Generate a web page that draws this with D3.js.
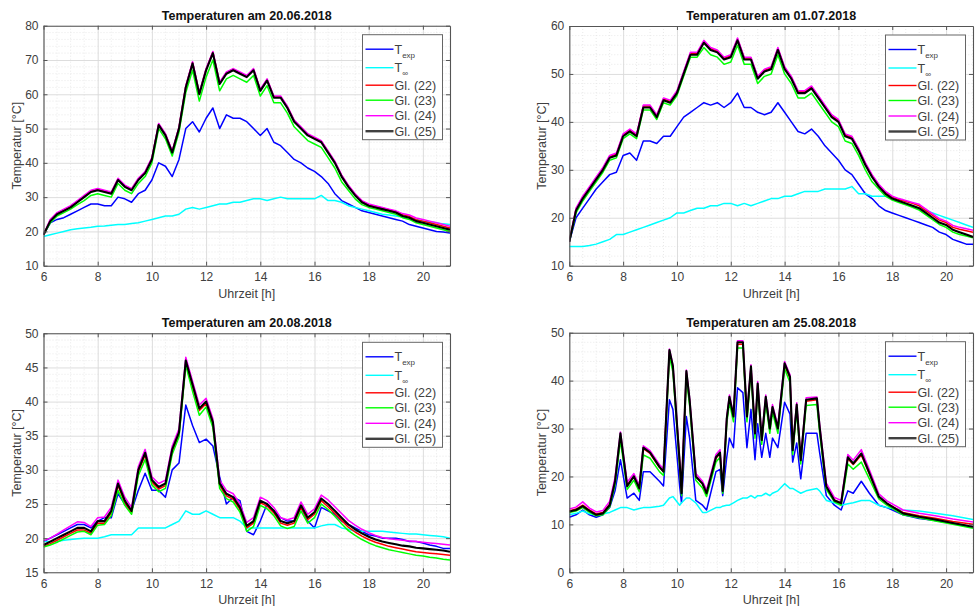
<!DOCTYPE html>
<html><head><meta charset="utf-8">
<script src="https://cdn.jsdelivr.net/npm/d3@7"></script>
<style>
body{margin:0;background:#fff;}
svg{display:block;font-family:"Liberation Sans",Arial,sans-serif;}
</style>
</head><body>
<svg id="chart" width="976" height="606"></svg>
<script>
// ---------- data ----------
const hours = [6,6.25,6.5,6.75,7,7.25,7.5,7.75,8,8.25,8.5,8.75,9,9.25,9.5,9.75,10,10.25,10.5,10.75,11,11.25,11.5,11.75,12,12.25,12.5,12.75,13,13.25,13.5,13.75,14,14.25,14.5,14.75,15,15.25,15.5,15.75,16,16.25,16.5,16.75,17,17.25,17.5,17.75,18,18.25,18.5,18.75,19,19.25,19.5,19.75,20,20.25,20.5,20.75,21];

const seriesNames = ["Texp","Tinf","Gl. (22)","Gl. (23)","Gl. (24)","Gl. (25)"];
const seriesColors = ["#0000ff","#00ffff","#ff0000","#00ff00","#ff00ff","#000000"];
const titles = ["Temperaturen am 20.06.2018","Temperaturen am 01.07.2018","Temperaturen am 20.08.2018","Temperaturen am 25.08.2018"];
const xTicks = [6,8,10,12,14,16,18,20];
const yTicks1 = [10,20,30,40,50,60,70,80];
const yTicks2 = [10,20,30,40,50,60];
const yTicks3 = [15,20,25,30,35,40,45,50];
const yTicks4 = [0,10,20,30,40,50];
const xLabel = "Uhrzeit [h]";
const yLabel = "Temperatur [°C]";

// Panel 1: 20.06.2018
const p1Texp = [19,22.5,23.5,24,25,26,27,28,28,27.5,27.5,30,29.5,28.5,31,32,35,40,39,36,41,50,52,49,53,56,50,54,53,53,52,50,48,50,46,45,43,41,40,38.5,37.5,36,34,31,29,28,27,26,25.5,25,24.5,24,23.5,23,22,21.5,21,20.5,20,19.8,19.5];
const p1Tinf = [18.5,19,19.5,20,20.5,20.8,21,21.2,21.5,21.6,21.8,22,22,22.3,22.5,23,23.5,24,24.5,24.5,25,26.5,27,26.5,27,27.5,28,28,28.5,28.5,29,29.5,29.5,29,29.5,30,29.5,29.5,29.5,29.5,29.5,30.5,29,29,28.5,27.5,27,26.5,26,25.5,25,24.8,24.5,24.2,24,23.5,23,22.8,22.5,22.2,22];
const p1G22 = [19,23.3,25.3,26.3,27.3,28.8,30.3,31.8,32.3,31.8,31.3,35.3,33.3,32.3,35.3,37.3,41.3,51.3,48.3,43.3,50.3,62.3,69.3,60.3,67.3,72.3,63.3,66.3,67.3,66.3,65.3,67.3,61.3,64.3,59.3,59.3,56.3,52.3,50.3,48.3,47.3,46.3,43.3,40.3,36.3,33.3,30.8,28.8,27.8,27.3,26.8,26.3,25.8,24.9,24.4,23.4,23,22.5,22,21.5,21];
const p1G23 = [19,22.5,24.5,25.5,26.5,27.8,29,30.5,31,30.5,30,34,32,31,34,36,40,50,47,42,49,60.5,67,58,65,70,61,64.5,65.5,64.5,63.5,65.5,59.5,62.5,57.5,57.5,54.5,50.5,48.5,46.5,45.5,44.5,41.5,38.5,34.5,32,29.5,27.8,27,26.5,26,25.5,25,24,23.5,22.5,22,21.5,21,20.5,20];
const p1G24 = [19,23.5,25.5,26.5,27.5,29,30.5,32,32.5,32,31.5,35.5,33.5,32.5,35.5,37.5,41.5,51.5,48.5,43.5,50.5,62.5,69.5,60.5,67.5,72.5,63.5,66.5,67.5,66.5,65.5,67.5,61.5,64.5,59.5,59.5,56.5,52.5,50.5,48.5,47.5,46.5,43.5,40.5,36.5,33.5,31,29,28,27.5,27,26.5,26,25.2,24.8,23.9,23.5,23,22.5,22,21.5];
const p1G25 = [19,23,25,26,27,28.5,30,31.5,32,31.5,31,35,33,32,35,37,41,51,48,43,50,62,69,60,67,72,63,66,67,66,65,67,61,64,59,59,56,52,50,48,47,46,43,40,36,33,30.5,28.5,27.5,27,26.5,26,25.5,24.5,24,23,22.5,22,21.5,21,20.5];

// Panel 2: 01.07.2018
const p2Texp = [15,20,22,24,26,27.5,29,29.5,33,33.5,32,36,36,35.5,37,37,39,41,42,43,44,43.5,44,43,44,46,43,43,42,41.5,42,44,42,40,38,37.5,38.5,37,35,33.5,32,30,29,27,25,24,22.5,21.5,21,20.5,20,19.5,19,18.5,18,17,16.5,15.5,15,14.5,14.5];
const p2Tinf = [14,14,14,14.2,14.5,15,15.5,16.5,16.5,17,17.5,18,18.5,19,19.5,20,21,21,21.5,22,22,22.5,22.5,23,23,22.5,23,22.5,23,23.5,24,24,24.5,24.5,25,25.5,25.5,25.5,26,26,26,26,26.5,25,25,24.5,24.5,24.5,24,23.5,23,22.5,22,21.5,21,20.5,20,19.5,19,18.5,18];
const p2G22 = [15,21.8,24.3,26.3,28.3,30.3,32.8,33.3,37.3,38.3,37.3,43.3,43.3,41.3,44.8,44.3,46.3,50.3,54.3,54.3,56.8,55.3,54.8,53.3,53.8,57.3,53.3,53.3,49.3,50.8,51.3,55.3,51.3,49.3,46.3,46.3,47.3,45.3,43.3,41.3,40.3,37.3,36.8,34.3,31.3,28.8,26.8,25.3,24.3,23.8,23.4,23,22.5,21.5,20.5,19.5,19,18,17.6,17.3,17];
const p2G23 = [15,21,23.5,25.5,27.5,29.5,32,32.5,36.5,37.5,36.5,42.5,42.5,40.5,44,43.5,45.5,49.5,53.5,53.5,55.5,54,53.5,52,52.5,56,52,52,48,49.5,50,54,50,48,45,45,46,44,42,40,39,36,35.5,33,30,27.5,26,24.5,23.7,23.2,22.7,22.2,21.6,20.6,19.6,18.6,18,17,16.5,16.2,15.8];
const p2G24 = [15,22,24.5,26.5,28.5,30.5,33,33.5,37.5,38.5,37.5,43.5,43.5,41.5,45,44.5,46.5,50.5,54.5,54.5,57,55.5,55,53.5,54,57.5,53.5,53.5,49.5,51,51.5,55.5,51.5,49.5,46.5,46.5,47.5,45.5,43.5,41.5,40.5,37.5,37,34.5,31.5,29,27,25.5,24.5,24,23.6,23.2,22.8,21.8,20.8,19.8,19.3,18.4,18,17.7,17.4];
const p2G25 = [15,21.5,24,26,28,30,32.5,33,37,38,37,43,43,41,44.5,44,46,50,54,54,56.5,55,54.5,53,53.5,57,53,53,49,50.5,51,55,51,49,46,46,47,45,43,41,40,37,36.5,34,31,28.5,26.5,25,24,23.5,23,22.5,22,21,20,19,18.5,17.5,17,16.5,16];

// Panel 3: 20.08.2018
const p3Texp = [19.5,20,20.5,21,21.5,22,22,21.5,22.5,23,23,26.5,25,24,27,29.5,27,27,26,30,31,39.5,36.5,34,34.5,33.5,29,25,26,25.5,21,20.5,22.5,25,24,23,22.5,22.5,24.5,22.5,21.5,24.5,24,23.5,22.5,22,21.5,21,20.5,20.3,20,20,20,19.8,19.5,19.5,19.3,19,18.8,18.5,18.5];
const p3Tinf = [19.5,19.5,19.5,19.7,19.8,19.9,20,20,20,20.2,20.5,20.5,20.5,20.5,21.5,21.5,21.5,21.5,21.5,22,22.5,24,23.5,23.5,24,23.5,23,23,23,22.5,21.5,21.5,21.5,21.5,21.5,21.5,21.5,21.5,21.5,21.5,21.5,21.8,22,22,21.5,21.3,21,21,21,21,21,20.9,20.8,20.7,20.6,20.6,20.5,20.4,20.3,20.2,20];
const p3G22 = [18.8,19.2,19.7,20.2,20.7,21.2,21.2,20.7,22.2,22.2,23.7,27.7,25.2,23.7,29.7,32.2,28.2,27.2,27.7,32.7,35.2,45.7,42.2,38.7,39.7,36.7,27.7,26.2,25.7,24.2,21.5,22.2,25.2,24.7,23.7,22.2,21.9,22.2,24.5,22.7,23.5,25.5,24.6,23.6,22.6,21.6,20.9,20.3,19.8,19.4,19.1,18.8,18.6,18.4,18.2,18,17.9,17.8,17.7,17.6,17.5];
const p3G23 = [18.7,19,19.4,19.9,20.4,20.9,21,20.5,21.9,22,23.3,27,24.8,23.5,29.2,31.5,27.8,26.8,27.3,32.3,34.8,45.3,41.5,38,39.2,36.2,27.3,25.8,25.3,23.8,21,21.7,24.8,24.3,23.3,21.8,21.4,21.7,24,22.2,23,25,24.2,23.2,22.1,21.1,20.4,19.8,19.3,18.9,18.6,18.3,18.1,17.9,17.7,17.5,17.4,17.2,17.1,16.9,16.8];
const p3G24 = [19.6,20,20.6,21.2,21.8,22.4,22.3,21.7,23,23.1,24.5,28.5,26,24.5,30.5,33,29,28,28.5,33.5,36,46.5,43,39.5,40.5,37.5,28.5,27,26.5,25,22.3,23,26,25.5,24.5,23,22.7,23,25.3,23.5,24.3,26.3,25.6,24.6,23.6,22.6,21.9,21.3,20.8,20.4,20.1,19.9,19.8,19.7,19.6,19.5,19.4,19.3,19.2,19.1,19];
const p3G25 = [19,19.5,20,20.5,21,21.5,21.5,21,22.5,22.5,24,28,25.5,24,30,32.5,28.5,27.5,28,33,35.5,46,42.5,39,40,37,28,26.5,26,24.5,21.8,22.5,25.5,25,24,22.5,22.2,22.5,24.8,23,23.8,25.8,25,24,23,22,21.3,20.7,20.2,19.8,19.5,19.3,19.1,18.9,18.8,18.6,18.5,18.4,18.3,18.2,18];

// Panel 4: 25.08.2018 (irregular sampling to keep the sharp peaks)
const p4Hours = [6,6.25,6.5,6.75,7,7.25,7.5,7.7,7.9,8.15,8.4,8.6,8.75,9,9.35,9.5,9.72,9.85,10.1,10.17,10.35,10.47,10.7,10.95,11.1,11.45,11.6,11.7,11.85,11.95,12.1,12.25,12.45,12.6,12.75,12.9,13,13.15,13.3,13.45,13.55,13.75,14,14.2,14.3,14.45,14.6,14.8,15.2,15.3,15.55,15.85,16.1,16.35,16.55,16.85,17.15,17.5,17.8,18.4,19,19.6,20.25,21];
const p4Texp = [11.5,12,13,12,11.5,12,13.5,17,23.5,15.5,16.5,15,21,21,19,18,36,34,18,14.5,32.5,28,15,14,13,21,21.5,16,24,28,26,38.5,37.5,26,34,23.5,31,24,29,24,28,26,35.5,33,23,27,19.5,29,29,25,16,14,13,17,16.5,19,16.5,14,13.5,12,11.2,10.8,10.2,9.5];
const p4Tinf = [12,12.3,12.8,12.2,12,12.2,12.5,13,13.5,13.5,13,13.3,13.5,13.5,13.8,14,15.5,15.8,14,14.5,15.5,15.5,14.5,12.5,12.5,13.5,13.5,13.8,14,14,14.5,15,15.5,15.5,16,15.5,16,16,16.5,16,16.5,17,18.5,17.5,17.5,17,16.5,17,17.5,17,15,14.5,14,14.3,14.5,15,15,14,13.5,13,12.8,12.3,11.8,11];
const p4G22 = [12.8,13.2,14,13,12.2,12.5,14.2,19,28.5,18.2,20,17.6,25.8,24.8,21.9,21,46,42.7,23,16.6,41.6,35.7,20,18.4,16.5,23.8,24.8,17,31.8,36.3,32.3,47.6,47.6,32.3,42.7,28.9,39.1,27.5,36.3,29.9,34.3,29.9,43.2,40.5,25.4,34.7,23.3,35.7,36,30.2,17.9,15.1,14.5,23.7,22.5,24.5,20.5,15.8,14.4,12.5,11.8,11.3,10.6,10];
const p4G23 = [12.5,12.8,13.5,12.5,11.8,12,13.6,18.2,27.5,17.3,19.2,16.8,24.5,23.8,21,20.2,45,41.8,22.2,16,40.5,34.8,19.2,17.6,15.8,23,24,16.5,31,35.4,31.4,46.8,46.8,31.4,41.8,28,38.2,26.7,35.4,29,33.4,29,42.5,39.6,24.6,33.8,22.6,34.8,35,29.2,17.3,14.7,14,22.6,21.5,23,19.5,15.3,14,12,11.4,10.7,10,9.2];
const p4G24 = [13.2,13.6,14.7,13.4,12.6,12.9,14.8,19.8,29.3,18.8,20.6,18.2,26.4,25.4,22.5,21.6,46.6,43.3,23.6,17.2,42.2,36.4,20.6,19,17.2,24.6,25.6,17.6,32.4,37,33,48.3,48.3,33,43.3,29.6,39.8,28.2,37,30.6,35,30.6,44,41.2,26,35.4,24,36.4,36.6,31,18.6,15.6,15,24.6,23.4,25.6,21.4,16.4,14.9,13,12.3,11.8,11.1,10.5];
const p4G25 = [12.7,13,13.8,12.8,12,12.3,14,19,29,18,20,17.5,26,25,22,21,46.4,43,23,16.5,42,36,20,18.5,16.5,24,25,17,32,36.6,32.5,48,48,32.5,43,29,39.4,27.6,36.6,30,34.5,30,43.6,40.8,25.5,35,23.4,36,36.3,30.4,17.9,15,14.4,24,22.7,24.8,20.7,15.8,14.4,12.3,11.6,11,10.3,9.5];

// ---------- layout ----------
const panels = [
  {title:titles[0], xs:hours,   series:[p1Texp,p1Tinf,p1G22,p1G23,p1G24,p1G25], yTicks:yTicks1, yMinor:2, L:43.5, R:450,   T:25.7,  B:265.7},
  {title:titles[1], xs:hours,   series:[p2Texp,p2Tinf,p2G22,p2G23,p2G24,p2G25], yTicks:yTicks2, yMinor:2, L:569.3, R:973, T:26,    B:265.7},
  {title:titles[2], xs:hours,   series:[p3Texp,p3Tinf,p3G22,p3G23,p3G24,p3G25], yTicks:yTicks3, yMinor:1, L:43.5, R:450,   T:333.3, B:572.3},
  {title:titles[3], xs:p4Hours, series:[p4Texp,p4Tinf,p4G22,p4G23,p4G24,p4G25], yTicks:yTicks4, yMinor:2, L:569.3, R:973, T:332.7, B:572.3}
];

const svg = d3.select("#chart");
const axisColor = "#555";
const textColor = "#404040";
const font = "'Liberation Sans',Arial,sans-serif";

panels.forEach((p, pi) => {
  const yDom = d3.extent(p.yTicks);
  const x = d3.scaleLinear().domain([6,21]).range([p.L,p.R]);
  const y = d3.scaleLinear().domain(yDom).range([p.B,p.T]);
  const g = svg.append("g");
  const w = p.R - p.L, h = p.B - p.T;

  g.append("rect").attr("x",p.L).attr("y",p.T).attr("width",w).attr("height",h).attr("fill","#fff");

  // minor grid
  const xMinor = d3.range(6,21.001,0.5).filter(v => !xTicks.includes(v));
  const yMinorVals = d3.range(yDom[0], yDom[1]+0.001, p.yMinor).filter(v => !p.yTicks.includes(v));
  g.append("g").selectAll("line").data(xMinor).join("line")
    .attr("x1",d=>x(d)).attr("x2",d=>x(d)).attr("y1",p.T).attr("y2",p.B)
    .attr("stroke","#e3e3e3").attr("stroke-width",0.8).attr("stroke-dasharray","1,2");
  g.append("g").selectAll("line").data(yMinorVals).join("line")
    .attr("y1",d=>y(d)).attr("y2",d=>y(d)).attr("x1",p.L).attr("x2",p.R)
    .attr("stroke","#e3e3e3").attr("stroke-width",0.8).attr("stroke-dasharray","1,2");

  // major grid via axes
  g.append("g").attr("transform",`translate(0,${p.B})`)
    .call(d3.axisBottom(x).tickValues(xTicks).tickSize(-h).tickFormat(""))
    .call(a => { a.select(".domain").remove(); a.selectAll("line").attr("stroke","#d9d9d9").attr("stroke-width",0.9); });
  g.append("g").attr("transform",`translate(${p.L},0)`)
    .call(d3.axisLeft(y).tickValues(p.yTicks).tickSize(-w).tickFormat(""))
    .call(a => { a.select(".domain").remove(); a.selectAll("line").attr("stroke","#d9d9d9").attr("stroke-width",0.9); });

  const cid = "clip"+pi;
  svg.append("clipPath").attr("id",cid).append("rect")
    .attr("x",p.L).attr("y",p.T).attr("width",w).attr("height",h);

  const lines = g.append("g").attr("clip-path",`url(#${cid})`);
  p.series.forEach((vals, si) => {
    const line = d3.line().x((d,i)=>x(p.xs[i])).y(d=>y(d));
    lines.append("path").datum(vals)
      .attr("d",line).attr("fill","none")
      .attr("stroke",seriesColors[si])
      .attr("stroke-width", si===5 ? 2.1 : 1.5)
      .attr("stroke-linejoin","round");
  });

  const styleAxis = a => {
    a.select(".domain").attr("stroke",axisColor).attr("stroke-width",1.1);
    a.selectAll(".tick line").attr("stroke",axisColor);
    a.selectAll("text").attr("fill",textColor).attr("font-size","12px").attr("font-family",font);
  };
  g.append("g").attr("transform",`translate(0,${p.B})`)
    .call(d3.axisBottom(x).tickValues(xTicks).tickSizeInner(-4).tickSizeOuter(0).tickPadding(7).tickFormat(d3.format("d")))
    .call(styleAxis);
  g.append("g").attr("transform",`translate(0,${p.T})`)
    .call(d3.axisTop(x).tickValues(xTicks).tickSizeInner(-4).tickSizeOuter(0).tickFormat(""))
    .call(styleAxis);
  g.append("g").attr("transform",`translate(${p.L},0)`)
    .call(d3.axisLeft(y).tickValues(p.yTicks).tickSizeInner(-4).tickSizeOuter(0).tickPadding(5).tickFormat(d3.format("d")))
    .call(styleAxis);
  g.append("g").attr("transform",`translate(${p.R},0)`)
    .call(d3.axisRight(y).tickValues(p.yTicks).tickSizeInner(-4).tickSizeOuter(0).tickFormat(""))
    .call(styleAxis);

  svg.append("text").attr("x",(p.L+p.R)/2).attr("y",p.T-6)
    .attr("text-anchor","middle").attr("font-weight","bold").attr("font-size","12.5px")
    .attr("fill","#111").text(p.title);
  svg.append("text").attr("x",(p.L+p.R)/2).attr("y",p.B+32)
    .attr("text-anchor","middle").attr("font-size","12.5px").attr("fill",textColor).text(xLabel);
  svg.append("text").attr("transform",`translate(${p.L-23},${(p.T+p.B)/2}) rotate(-90)`)
    .attr("text-anchor","middle").attr("font-size","12.5px").attr("fill",textColor).text(yLabel);

  // legend
  const lgR = p.R - 7.5, lgW = 80, lgL = lgR - lgW, lgT = p.T + 9, lgH = 105;
  const lg = svg.append("g");
  lg.append("rect").attr("x",lgL).attr("y",lgT).attr("width",lgW).attr("height",lgH)
    .attr("fill","#fff").attr("stroke","#666").attr("stroke-width",1);
  const rowOff = [14.5, 33, 50.5, 65.5, 81, 96.5];
  seriesNames.forEach((name, si) => {
    const ry = lgT + rowOff[si];
    lg.append("line").attr("x1",lgL+3).attr("x2",lgL+31).attr("y1",ry).attr("y2",ry)
      .attr("stroke",seriesColors[si]).attr("stroke-width", si===5 ? 2.4 : 1.4)
      .attr("stroke-opacity", si===5 ? 0.75 : 1);
    const t = lg.append("text").attr("x",lgL+32).attr("y",ry+4.5)
      .attr("font-size","12.5px").attr("fill",textColor);
    if (si === 0) {
      t.text("T");
      t.append("tspan").attr("font-size","8px").attr("dy",4).text("exp");
    } else if (si === 1) {
      t.text("T");
      t.append("tspan").attr("font-size","8px").attr("dy",4).text("∞");
    } else {
      t.text(name);
    }
  });
});
</script>
</body></html>
